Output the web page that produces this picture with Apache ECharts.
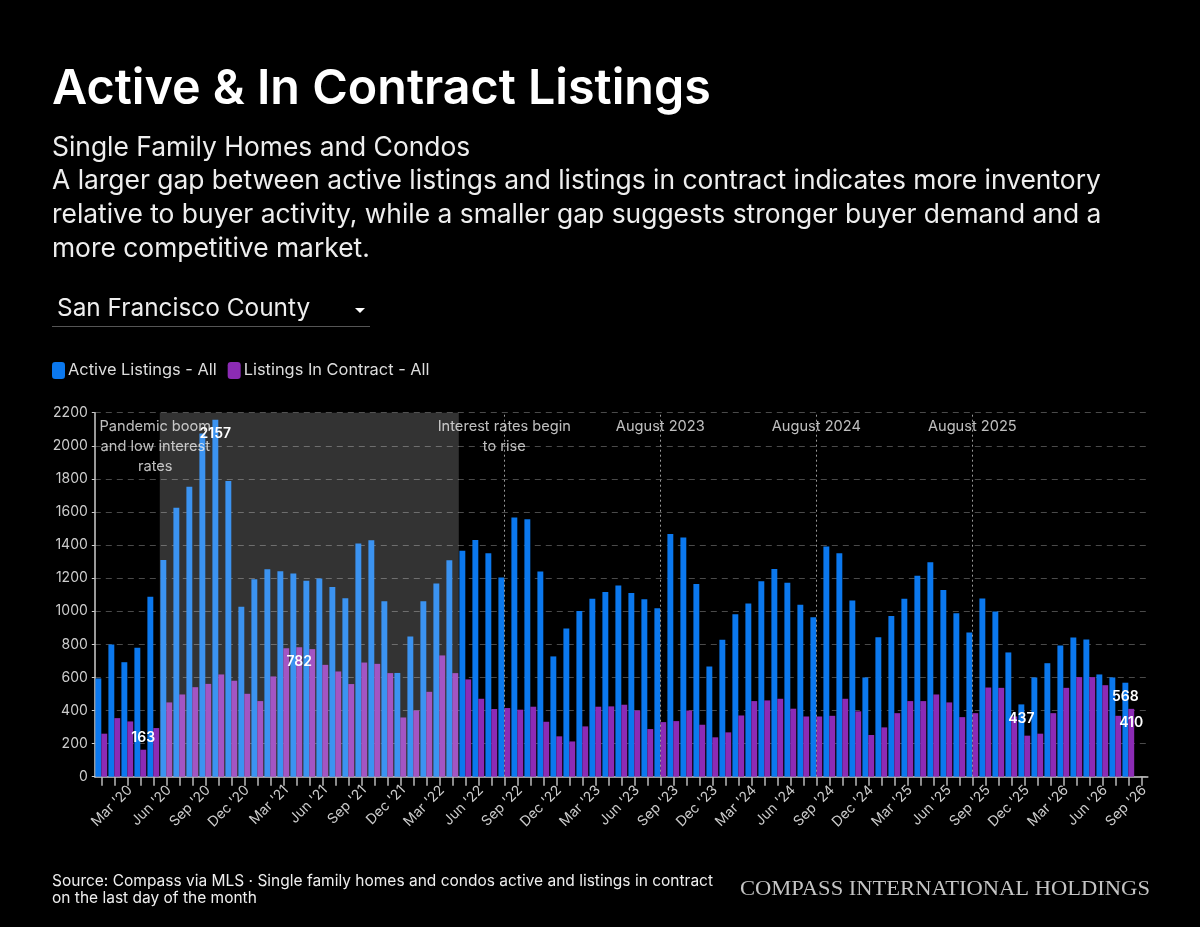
<!DOCTYPE html>
<html>
<head>
<meta charset="utf-8">
<style>
  html, body { margin: 0; padding: 0; background: #000; }
  #chart { width: 1200px; height: 927px; }
</style>
<script src="https://cdn.jsdelivr.net/npm/echarts@6/dist/echarts.min.js"></script>
</head>
<body>
<div id="chart"></div>
<script>
var months = ['Jan', 'Feb', 'Mar', 'Apr', 'May', 'Jun', 'Jul', 'Aug', 'Sep', 'Oct', 'Nov', 'Dec'];
var categories = [];
for (var yy = 20; yy <= 26; yy++) {
  months.forEach(function (m, i) {
    if (yy < 26 || i <= 8) categories.push(m + " '" + yy);
  });
}

var activeListings = [594, 799, 692, 779, 1087, 1310, 1626, 1753, 2075, 2157, 1787, 1027,
  1194, 1254, 1242, 1228, 1184, 1198, 1147, 1079, 1409, 1429, 1061, 627,
  847, 1061, 1168, 1308, 1365, 1431, 1351, 1204, 1566, 1556, 1240, 727,
  896, 1002, 1075, 1117, 1155, 1111, 1073, 1018, 1467, 1445, 1165, 666,
  827, 982, 1047, 1182, 1256, 1172, 1039, 964, 1391, 1351, 1065, 600,
  843, 972, 1075, 1214, 1296, 1129, 988, 872, 1077, 998, 751, 437,
  600, 686, 793, 841, 829, 618, 600, 568];
var inContract = [260, 354, 334, 163, 294, 449, 497, 541, 561, 618, 580, 501,
  457, 606, 777, 782, 771, 676, 636, 560, 690, 682, 626, 358,
  400, 513, 733, 626, 588, 471, 409, 415, 405, 423, 332, 244,
  213, 304, 423, 425, 435, 400, 288, 330, 336, 400, 314, 238,
  268, 370, 457, 461, 471, 411, 364, 364, 368, 471, 395, 252,
  298, 384, 457, 457, 497, 449, 360, 384, 539, 537, 364, 248,
  260, 384, 537, 602, 602, 553, 368, 410];

var labelledActive = [9, 71, 79];
var labelledContract = [15, 79];
var labelledAbove = [3];

var eventLines = ["Aug '22", "Aug '23", "Aug '24", "Aug '25"];
var annotations = [
  { cat: "May '20", text: 'Pandemic boom\nand low interest\nrates' },
  { cat: "Aug '22", text: 'Interest rates begin\nto rise' },
  { cat: "Aug '23", text: 'August 2023' },
  { cat: "Aug '24", text: 'August 2024' },
  { cat: "Aug '25", text: 'August 2025' }
];
var shadeFrom = "Jun '20";
var shadeTo = "May '22";

var FONT = 'Inter';
var chart = echarts.init(document.getElementById('chart'), null, { renderer: 'canvas' });

function barData(values, labelled, above) {
  return values.map(function (v, i) {
    if (above && above.indexOf(i) >= 0) {
      return { value: v, label: { show: true, position: 'top', distance: 5 } };
    }
    if (labelled.indexOf(i) >= 0) {
      return { value: v, label: { show: true, position: 'insideTop', distance: 7 } };
    }
    return v;
  });
}

var valueLabel = { color: '#fff', fontFamily: FONT, fontSize: 14, fontWeight: 600 };

chart.setOption({
  backgroundColor: '#000',
  animation: false,
  title: [
    { text: 'Active & In Contract Listings', left: 52, top: 65, padding: 0,
      textStyle: { color: '#fff', fontFamily: FONT, fontSize: 48.4, fontWeight: 600 } },
    { text: 'Single Family Homes and Condos\nA larger gap between active listings and listings in contract indicates more inventory\nrelative to buyer activity, while a smaller gap suggests stronger buyer demand and a\nmore competitive market.',
      left: 52, top: 131, padding: 0,
      textStyle: { color: '#eee', fontFamily: FONT, fontSize: 26.4, fontWeight: 'normal', lineHeight: 33.7 } },
    { text: 'San Francisco County', left: 57, top: 297, padding: 0,
      textStyle: { color: '#eee', fontFamily: FONT, fontSize: 24.4, fontWeight: 'normal' } },
    { text: 'Source: Compass via MLS · Single family homes and condos active and listings in contract\non the last day of the month',
      left: 52, top: 873, padding: 0,
      textStyle: { color: '#eee', fontFamily: FONT, fontSize: 15.5, fontWeight: 'normal', lineHeight: 17 } }
  ],
  legend: {
    left: 52, top: 362, padding: 0,
    itemWidth: 13, itemHeight: 17, itemGap: 11,
    icon: 'roundRect',
    textStyle: { color: '#ddd', fontFamily: FONT, fontSize: 16.4, padding: [0, 0, 0, -2] },
    data: ['Active Listings - All', 'Listings In Contract - All']
  },
  graphic: [
    { type: 'polygon', shape: { points: [[355, 308], [365, 308], [360, 313]] }, style: { fill: '#fff' } },
    { type: 'line', shape: { x1: 52, y1: 326.5, x2: 370, y2: 326.5 }, style: { stroke: '#555', lineWidth: 1 } },
    { type: 'text', x: 740, y: 880, scaleX: 1.127, style: { text: 'COMPASS INTERNATIONAL HOLDINGS', fill: '#c4c4c4', font: '20px "Liberation Serif"' } }
  ],
  grid: { left: 94.8, top: 412.7, width: 1053, height: 364 },
  xAxis: [
    {
      type: 'category', data: categories,
      axisLine: { lineStyle: { color: '#ccc', width: 1.5 } },
      axisTick: { show: true, alignWithLabel: true, interval: 0, length: 9, lineStyle: { color: '#bbb', width: 1.5 } },
      axisLabel: {
        rotate: 45, color: '#ccc', fontFamily: FONT, fontSize: 14, margin: 14, padding: [0, -4, 0, 0],
        interval: function (i) { return (i - 2) % 3 === 0; }
      }
    },
    { type: 'value', min: 0, max: categories.length, show: false }
  ],
  yAxis: {
    type: 'value', min: 0, max: 2200, interval: 200,
    axisLine: { show: true, lineStyle: { color: '#ccc', width: 1.5 } },
    axisTick: { show: true, length: 3, lineStyle: { color: '#ccc' } },
    axisLabel: { color: '#ccc', fontFamily: FONT, fontSize: 14, margin: 7, formatter: function (v) { return String(v); } },
    splitLine: { lineStyle: { color: '#4a4a4a', type: [6, 5], width: 1 } }
  },
  series: [
    {
      name: 'Active Listings - All', type: 'bar', barWidth: 5.9, barGap: 0,
      itemStyle: { color: '#0b78ee' }, label: valueLabel,
      data: barData(activeListings, labelledActive)
    },
    {
      name: 'Listings In Contract - All', type: 'bar', barWidth: 5.9, barGap: 0,
      itemStyle: { color: '#8c2bb5' }, label: valueLabel,
      data: barData(inContract, labelledContract, labelledAbove)
    },
    {
      // band-edge shade, sits over the bars
      type: 'line', xAxisIndex: 1, data: [], z: 5, silent: true,
      markArea: {
        silent: true, z: 5,
        itemStyle: { color: 'rgba(255,255,255,0.2)' },
        data: [[{ xAxis: categories.indexOf(shadeFrom) }, { xAxis: categories.indexOf(shadeTo) }]]
      }
    },
    {
      type: 'scatter', symbolSize: 0, z: 10, silent: true,
      data: annotations.map(function (a, i) {
        var item = { value: [a.cat, 2175], name: a.text };
        if (i === 0) item.label = { offset: [2, 0] };
        return item;
      }),
      label: {
        show: true, position: 'bottom', distance: 0, formatter: '{b}',
        color: '#eee', fontFamily: FONT, fontSize: 14.6, lineHeight: 20, align: 'center'
      },
      markLine: {
        silent: true, symbol: 'none', z: 6,
        lineStyle: { color: '#999', type: [2, 3], width: 1 },
        label: { show: false },
        data: eventLines.map(function (c) { return { xAxis: c }; })
      }
    }
  ]
});
</script>
</body>
</html>
